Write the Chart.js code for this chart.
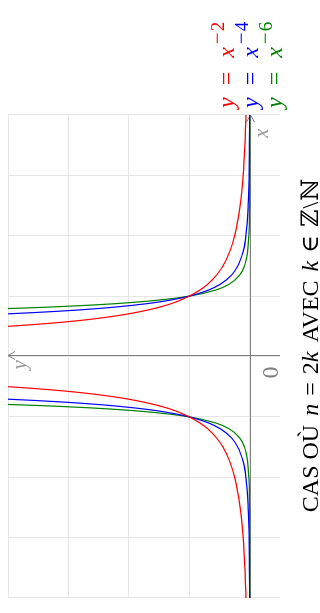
<!DOCTYPE html>
<html>
<head>
<meta charset="utf-8">
<script src="https://cdn.jsdelivr.net/npm/chart.js@4.4.0/dist/chart.umd.min.js"></script>
<style>
  html, body { margin: 0; padding: 0; background: #fff; overflow: hidden; }
  /* the chart is drawn upright (613x320) then turned a quarter turn */
  #wrap {
    position: absolute; left: 0; top: 0; width: 613px; height: 320px;
    transform-origin: 0 0; transform: translate(0, 613px) rotate(-90deg);
  }
</style>
</head>
<body>
<div id="wrap"><canvas id="chart" width="613" height="320"></canvas></div>
<script>
// ====== data ======
const X_VALUES = [-4, -3.5, -3, -2.5, -2, -1.75, -1.5, -1.35, -1.2, -1.1, -1, -0.95, -0.9, -0.85, -0.8, -0.75, -0.7, -0.65, -0.6, -0.55, -0.5, -0.45, -0.4,
                  0,
                  0.4, 0.45, 0.5, 0.55, 0.6, 0.65, 0.7, 0.75, 0.8, 0.85, 0.9, 0.95, 1, 1.1, 1.2, 1.35, 1.5, 1.75, 2, 2.5, 3, 3.5, 4];

// y = x^-2
const Y_POW_M2 = [0.063, 0.082, 0.111, 0.16, 0.25, 0.327, 0.444, 0.549, 0.694, 0.826, 1, 1.11, 1.23, 1.38, 1.56, 1.78, 2.04, 2.37, 2.78, 3.31, 4, 4.94, 6.25,
                  null,
                  6.25, 4.94, 4, 3.31, 2.78, 2.37, 2.04, 1.78, 1.56, 1.38, 1.23, 1.11, 1, 0.826, 0.694, 0.549, 0.444, 0.327, 0.25, 0.16, 0.111, 0.082, 0.063];
// y = x^-4
const Y_POW_M4 = [0.004, 0.007, 0.012, 0.026, 0.063, 0.107, 0.198, 0.301, 0.482, 0.683, 1, 1.23, 1.52, 1.92, 2.44, 3.16, 4.16, 5.6, 7.72, null, null, null, null,
                  null,
                  null, null, null, null, 7.72, 5.6, 4.16, 3.16, 2.44, 1.92, 1.52, 1.23, 1, 0.683, 0.482, 0.301, 0.198, 0.107, 0.063, 0.026, 0.012, 0.007, 0.004];
// y = x^-6
const Y_POW_M6 = [0.0002, 0.0005, 0.001, 0.004, 0.016, 0.035, 0.088, 0.165, 0.335, 0.564, 1, 1.36, 1.88, 2.65, 3.81, 5.62, 8.5, null, null, null, null, null, null,
                  null,
                  null, null, null, null, null, null, 8.5, 5.62, 3.81, 2.65, 1.88, 1.36, 1, 0.564, 0.335, 0.165, 0.088, 0.035, 0.016, 0.004, 0.001, 0.0005, 0.0002];

const X_TICKS = [-4, -3, -2, -1, 0, 1, 2, 3, 4];
const Y_TICKS = [0, 1, 2, 3, 4];

const SERIES_EXP    = ["2", "4", "6"];
const SERIES_COLORS = ["#ff0000", "#0000ff", "#008000"];
const SERIES_DATA   = [Y_POW_M2, Y_POW_M4, Y_POW_M6];

const TITLE_PARTS = ["CAS OÙ", "n", "=", "2", "k", "AVEC", "k", "\u2208", "\u2124", "\\", "\u2115"];

// ====== helpers ======
const SERIF = '"Liberation Serif", "DejaVu Serif", serif';
const up = s => `${s}px ${SERIF}`;
const it = s => `italic ${s}px ${SERIF}`;

// runs: {t, font, pre (space before), rise}
function drawRuns(ctx, runs, x, y, align) {
  let w = 0;
  runs.forEach(r => { ctx.font = r.font; r.w = ctx.measureText(r.t).width; w += r.w + (r.pre || 0); });
  let cx = align === "center" ? x - w / 2 : x;
  runs.forEach(r => {
    cx += r.pre || 0;
    ctx.font = r.font;
    ctx.fillText(r.t, cx, y - (r.rise || 0));
    cx += r.w;
  });
}

// ====== axes with arrows ======
const axesPlugin = {
  id: "axes",
  beforeDatasetsDraw(chart) {
    const { ctx, chartArea: a, scales: { x, y } } = chart;
    const x0 = Math.round(x.getPixelForValue(0)) + 0.5;
    const y0 = Math.round(y.getPixelForValue(0)) + 0.5;
    ctx.save();
    ctx.strokeStyle = "#808080";
    ctx.lineWidth = 1;
    ctx.beginPath();
    ctx.moveTo(a.left, y0); ctx.lineTo(a.right, y0);
    ctx.moveTo(x0, a.bottom); ctx.lineTo(x0, a.top);
    ctx.moveTo(a.right - 7, y0 - 4); ctx.lineTo(a.right, y0); ctx.lineTo(a.right - 7, y0 + 4);
    ctx.moveTo(x0 - 4, a.top + 7); ctx.lineTo(x0, a.top); ctx.lineTo(x0 + 4, a.top + 7);
    ctx.stroke();
    ctx.restore();
  }
};

// ====== texts (title, legend, axis names) ======
const textPlugin = {
  id: "texts",
  afterDraw(chart) {
    const { ctx, chartArea: a, scales: { x, y } } = chart;
    const x0 = x.getPixelForValue(0), y0 = y.getPixelForValue(0);
    ctx.save();
    ctx.textBaseline = "alphabetic";

    // axis names
    ctx.fillStyle = "#999";
    ctx.font = it(21);
    ctx.fillText("x", a.right - 23, y0 + 18);
    ctx.fillText("y", x0 - 13, a.top + 18);
    ctx.fillStyle = "#808080";
    ctx.font = up(24);
    ctx.fillText("0", x0 - 22, y0 + 28);

    // legend
    SERIES_EXP.forEach((e, i) => {
      ctx.fillStyle = SERIES_COLORS[i];
      drawRuns(ctx, [
        { t: "y", font: it(24) },
        { t: "=", font: up(24), pre: 12 },
        { t: "x", font: it(24), pre: 14 },
        { t: "\u2212", font: up(21), pre: 3, rise: 10 },
        { t: e, font: up(19), pre: 1, rise: 10 }
      ], 505, 234 + i * 24, "left");
    });

    // title
    const P = TITLE_PARTS, s = 24, th = 8, sp = 9;
    ctx.fillStyle = "#000";
    drawRuns(ctx, [
      { t: P[0], font: up(s) },
      { t: P[1], font: it(s), pre: sp },
      { t: P[2], font: up(s), pre: th },
      { t: P[3], font: up(s), pre: th },
      { t: P[4], font: it(s) },
      { t: P[5], font: up(s), pre: sp },
      { t: P[6], font: it(s), pre: sp },
      { t: P[7], font: up(s), pre: th },
      { t: P[8], font: up(s), pre: th },
      { t: P[9], font: up(s), pre: 1 },
      { t: P[10], font: up(s), pre: 1 }
    ], (a.left + a.right) / 2 + 11, 318, "center");
    ctx.restore();
  }
};

// ====== chart ======
const ctx = document.getElementById("chart").getContext("2d");
new Chart(ctx, {
  type: "scatter",
  data: {
    datasets: SERIES_DATA.map((ys, i) => ({
      label: "y = x^-" + SERIES_EXP[i],
      data: X_VALUES.map((xv, j) => ({ x: xv, y: ys[j] })),
      showLine: true,
      borderColor: SERIES_COLORS[i],
      backgroundColor: SERIES_COLORS[i],
      borderWidth: 1.2,
      pointRadius: 0,
      cubicInterpolationMode: "monotone",
      spanGaps: false,
      clip: 0
    }))
  },
  options: {
    responsive: false,
    animation: false,
    devicePixelRatio: 1,
    layout: { padding: { left: 15, top: 8, right: 115, bottom: 40 } },
    plugins: { legend: { display: false }, title: { display: false }, tooltip: { enabled: false } },
    scales: {
      x: {
        type: "linear", min: -4, max: 4,
        afterBuildTicks: sc => { sc.ticks = X_TICKS.map(v => ({ value: v })); },
        ticks: { display: false },
        grid: { color: "#e6e6e6", drawTicks: false },
        border: { display: false }
      },
      y: {
        type: "linear", min: -0.5, max: 4,
        afterBuildTicks: sc => { sc.ticks = Y_TICKS.map(v => ({ value: v })); },
        ticks: { display: false },
        grid: { color: "#e6e6e6", drawTicks: false },
        border: { display: false }
      }
    }
  },
  plugins: [axesPlugin, textPlugin]
});
</script>
</body>
</html>
